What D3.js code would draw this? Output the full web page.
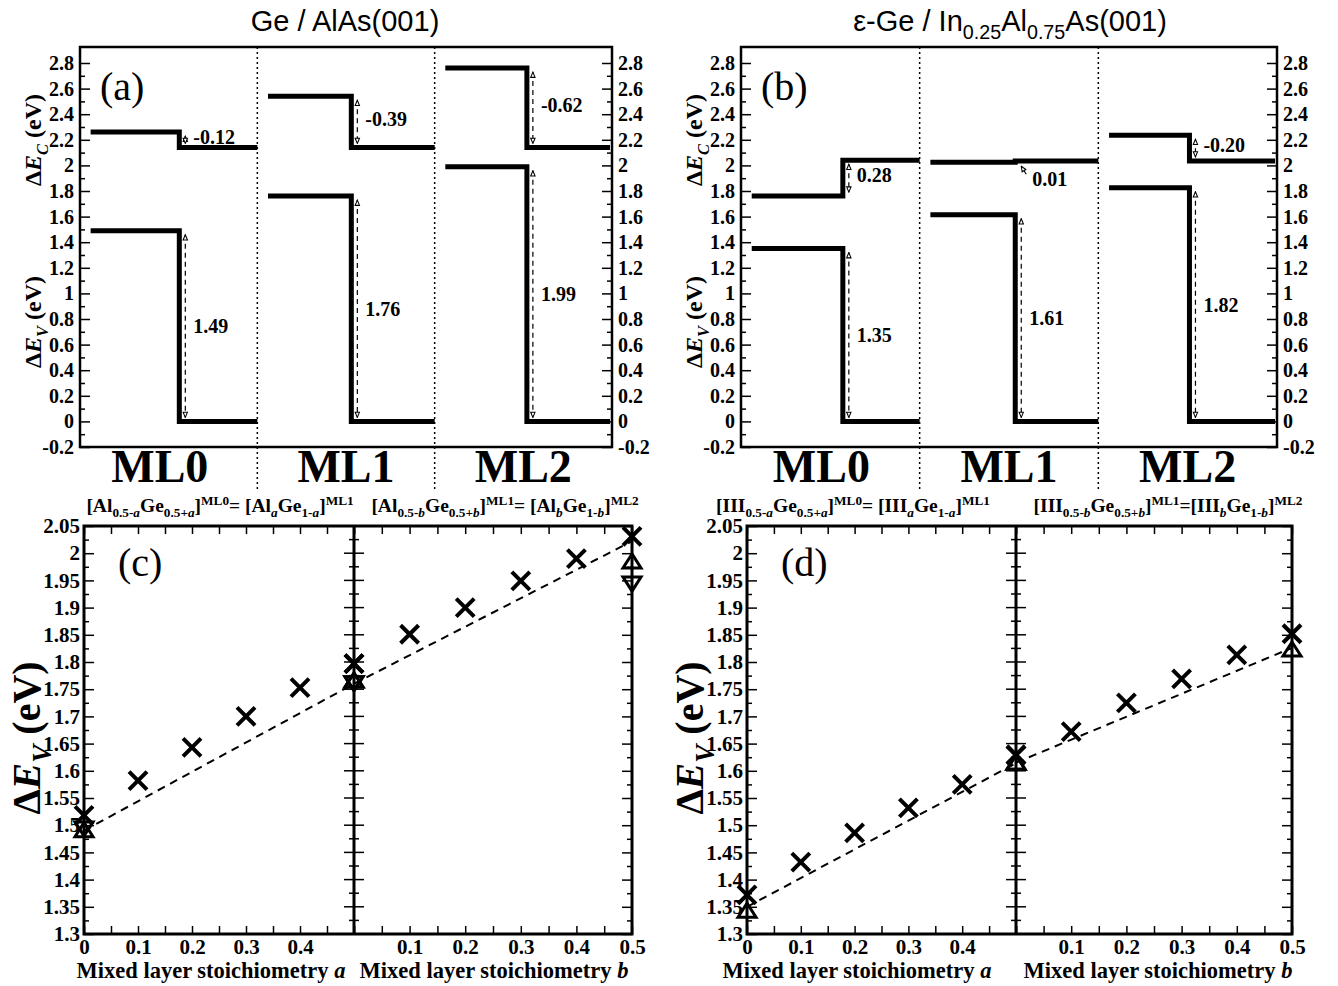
<!DOCTYPE html>
<html>
<head>
<meta charset="utf-8">
<script src="https://cdn.jsdelivr.net/npm/d3@7"></script>
<style>
  body { margin: 0; background: #fff; }
  svg text { fill: #000; }
</style>
</head>
<body>
<script>
var width = 1338, height = 986;
var serif = '"Liberation Serif","Times New Roman",serif';
var sans = '"Liberation Sans",Arial,sans-serif';

// ---- band offset panels (a), (b)
var layers = ["ML0", "ML1", "ML2"];
var aEcLeft = [2.26, 2.54, 2.76];
var aEcRight = [2.14, 2.14, 2.14];
var aEv = [1.49, 1.76, 1.99];
var aStep = [0.56, 0.53, 0.52];
var aEcText = ["-0.12", "-0.39", "-0.62"];
var aEvText = ["1.49", "1.76", "1.99"];

var bEcLeft = [1.76, 2.025, 2.235];
var bEcRight = [2.04, 2.035, 2.035];
var bEv = [1.35, 1.615, 1.825];
var bStep = [0.57, 0.535, 0.51];
var bEcText = ["0.28", "0.01", "-0.20"];
var bEvText = ["1.35", "1.61", "1.82"];

var bandTicks = [-0.2, 0, 0.2, 0.4, 0.6, 0.8, 1, 1.2, 1.4, 1.6, 1.8, 2, 2.2, 2.4, 2.6, 2.8];
var bandMinor = [-0.1, 0.1, 0.3, 0.5, 0.7, 0.9, 1.1, 1.3, 1.5, 1.7, 1.9, 2.1, 2.3, 2.5, 2.7];

// ---- mixed layer panels (c), (d)
var mixX = [0, 0.1, 0.2, 0.3, 0.4, 0.5];
var cCrossA = [1.518, 1.582, 1.643, 1.70, 1.753, 1.797];
var cCrossB = [1.797, 1.851, 1.90, 1.949, 1.99, 2.031];
var cUpX = [0, 0.5];
var cUpA = [1.49, 1.765];
var cUpB = [1.765, 1.984];
var cDownA = [1.495, 1.762];
var cDownB = [1.762, 1.945];
var cDashA = [1.49, 1.76];
var cDashB = [1.76, 2.022];

var dCrossA = [1.372, 1.432, 1.486, 1.532, 1.575, 1.629];
var dCrossB = [1.629, 1.672, 1.725, 1.769, 1.813, 1.852];
var dUpA = [1.342, 1.614];
var dUpB = [1.614, 1.822];
var dDashA = [1.35, 1.614];
var dDashB = [1.615, 1.826];

var mixYTicks = [1.3, 1.35, 1.4, 1.45, 1.5, 1.55, 1.6, 1.65, 1.7, 1.75, 1.8, 1.85, 1.9, 1.95, 2, 2.05];
var mixYMinor = [1.325, 1.375, 1.425, 1.475, 1.525, 1.575, 1.625, 1.675, 1.725, 1.775, 1.825, 1.875, 1.925, 1.975, 2.025];
var mixXTicks = [0, 0.05, 0.1, 0.15, 0.2, 0.25, 0.3, 0.35, 0.4, 0.45, 0.5];
var mixLabelsA = [0, 0.1, 0.2, 0.3, 0.4];
var mixLabelsB = [0.1, 0.2, 0.3, 0.4, 0.5];

var svg = d3.select('body').append('svg')
    .attr('width', width)
    .attr('height', height)
    .attr('font-family', serif);

var defs = svg.append('defs');
defs.append('marker')
    .attr('id', 'head')
    .attr('viewBox', '0 0 8 8')
    .attr('refX', 7).attr('refY', 4)
    .attr('markerWidth', 7).attr('markerHeight', 7)
    .attr('markerUnits', 'userSpaceOnUse')
    .attr('orient', 'auto-start-reverse')
    .append('path')
    .attr('d', 'M1,1.5 L7,4 L1,6.5 Z')
    .attr('fill', '#fff').attr('stroke', '#000').attr('stroke-width', 1.2);

var fmt = function (d) { return String(+d.toFixed(3)); };

// text with sub/superscripts: parts = [text, 'sub'|'sup'|null, italic]
function rich(text, parts, size, supShift) {
    var cur = 0;
    parts.forEach(function (p) {
        var mode = p[1];
        var off = mode == 'sub' ? size * 0.28 : mode == 'sup' ? -size * (supShift || 0.42) : 0;
        text.append('tspan')
            .attr('dy', off - cur)
            .attr('font-size', mode ? size * 0.68 : size)
            .attr('font-style', p[2] ? 'italic' : null)
            .text(p[0]);
        cur = off;
    });
    return text;
}

function styleAxis(g, size) {
    g.select('.domain').remove();
    g.selectAll('line').attr('stroke', '#000').attr('stroke-width', 1.5);
    g.attr('font-family', serif).attr('font-size', size).attr('font-weight', 'bold');
}

function yTitle(x, y, sub, size) {
    var t = svg.append('text')
        .attr('transform', 'translate(' + x + ',' + y + ') rotate(-90)')
        .attr('text-anchor', 'middle')
        .attr('font-weight', 'bold');
    rich(t, [['\u0394', null], ['E', null, true], [sub, 'sub', true], [' (eV)', null]], size);
}

function drawBands(o) {
    var g = svg.append('g');
    var x = d3.scaleLinear().domain([0, 3]).range([o.x0, o.x1]);
    var y = d3.scaleLinear().domain([-0.2, 2.925]).range([447, 47]);

    g.selectAll('.sep').data([1, 2]).enter().append('line')
        .attr('x1', x).attr('x2', x)
        .attr('y1', 47).attr('y2', 490)
        .attr('stroke', '#000').attr('stroke-width', 1.5)
        .attr('stroke-dasharray', '2,3');

    g.append('g').attr('transform', 'translate(' + o.x0 + ',0)')
        .call(d3.axisLeft(y).tickValues(bandTicks).tickSize(-10).tickPadding(6).tickFormat(fmt))
        .call(styleAxis, 20);
    g.append('g').attr('transform', 'translate(' + o.x0 + ',0)')
        .call(d3.axisLeft(y).tickValues(bandMinor).tickSize(-5).tickFormat(''))
        .call(styleAxis, 20);
    g.append('g').attr('transform', 'translate(' + o.x1 + ',0)')
        .call(d3.axisRight(y).tickValues(bandTicks).tickSize(-10).tickPadding(6).tickFormat(fmt))
        .call(styleAxis, 20);
    g.append('g').attr('transform', 'translate(' + o.x1 + ',0)')
        .call(d3.axisRight(y).tickValues(bandMinor).tickSize(-5).tickFormat(''))
        .call(styleAxis, 20);

    g.append('rect')
        .attr('x', o.x0).attr('y', 47)
        .attr('width', o.x1 - o.x0).attr('height', 400)
        .attr('fill', 'none').attr('stroke', '#000').attr('stroke-width', 2.5);

    var xs = function (i) { return x(i + 0.06); };
    var xm = function (i) { return x(i + o.step[i]); };
    var xe = function (i) { return x(i + 1) - (i == 2 ? 2 : 0); };

    g.selectAll('.ec').data(layers).enter().append('path')
        .attr('d', function (d, i) {
            return 'M' + xs(i) + ',' + y(o.ecL[i]) + 'H' + xm(i) + 'V' + y(o.ecR[i]) + 'H' + xe(i);
        })
        .attr('fill', 'none').attr('stroke', '#000').attr('stroke-width', 5);
    g.selectAll('.ev').data(layers).enter().append('path')
        .attr('d', function (d, i) {
            return 'M' + xs(i) + ',' + y(o.ev[i]) + 'H' + xm(i) + 'V' + y(0) + 'H' + xe(i);
        })
        .attr('fill', 'none').attr('stroke', '#000').attr('stroke-width', 5);

    layers.forEach(function (d, i) {
        var ax = xm(i) + 6;
        // valence offset arrow
        g.append('line')
            .attr('x1', ax).attr('x2', ax)
            .attr('y1', y(o.ev[i]) + 4).attr('y2', y(0) - 4)
            .attr('stroke', '#000').attr('stroke-width', 1.2)
            .attr('stroke-dasharray', '5,4')
            .attr('marker-start', 'url(#head)').attr('marker-end', 'url(#head)');
        g.append('text')
            .attr('x', ax + 8).attr('y', y(o.ev[i] / 2))
            .attr('dy', '0.35em')
            .attr('font-size', 20).attr('font-weight', 'bold')
            .text(o.evText[i]);

        // conduction offset arrow
        var yl = y(o.ecL[i]), yr = y(o.ecR[i]);
        if (Math.abs(o.ecL[i] - o.ecR[i]) < 0.05) {
            g.append('line')
                .attr('x1', ax + 5).attr('y1', Math.max(yl, yr) + 12)
                .attr('x2', ax).attr('y2', Math.max(yl, yr) + 4)
                .attr('stroke', '#000').attr('stroke-width', 1.2)
                .attr('marker-end', 'url(#head)');
            g.append('text')
                .attr('x', ax + 11).attr('y', Math.max(yl, yr) + 17)
                .attr('dy', '0.35em')
                .attr('font-size', 20).attr('font-weight', 'bold')
                .text(o.ecText[i]);
        } else {
            var top = Math.min(yl, yr), bot = Math.max(yl, yr);
            g.append('line')
                .attr('x1', ax).attr('x2', ax)
                .attr('y1', top + 4).attr('y2', bot - 4)
                .attr('stroke', '#000').attr('stroke-width', 1.2)
                .attr('stroke-dasharray', '5,4')
                .attr('marker-start', 'url(#head)').attr('marker-end', 'url(#head)');
            g.append('text')
                .attr('x', ax + 8).attr('y', (top + bot) / 2 - 3)
                .attr('dy', '0.35em')
                .attr('font-size', 20).attr('font-weight', 'bold')
                .text(o.ecText[i]);
        }
    });

    g.selectAll('.ml').data(layers).enter().append('text')
        .attr('x', function (d, i) { return x(i + (i == 0 ? 0.45 : 0.5)); })
        .attr('y', 482)
        .attr('text-anchor', 'middle')
        .attr('font-size', 46).attr('font-weight', 'bold')
        .text(function (d) { return d; });

    g.append('text')
        .attr('x', o.x0 + 20).attr('y', 100)
        .attr('font-size', 40)
        .text(o.tag);

    yTitle(o.x0 - 39, 140, 'C', 24);
    yTitle(o.x0 - 39, 322, 'V', 24);

    var t = svg.append('text')
        .attr('x', o.titleX).attr('y', 31)
        .attr('text-anchor', 'middle')
        .attr('font-family', sans);
    rich(t, o.title, 29);
}

function drawMixed(o) {
    var g = svg.append('g');
    var y = d3.scaleLinear().domain([1.3, 2.05]).range([934, 526]);
    var xa = d3.scaleLinear().domain([0, 0.5]).range([o.x0, o.xm]);
    var xb = d3.scaleLinear().domain([0, 0.5]).range([o.xm, o.x1]);

    g.append('g').attr('transform', 'translate(' + o.x0 + ',0)')
        .call(d3.axisLeft(y).tickValues(mixYTicks).tickSize(-10).tickPadding(4).tickFormat(fmt))
        .call(styleAxis, 21);
    g.append('g').attr('transform', 'translate(' + o.x0 + ',0)')
        .call(d3.axisLeft(y).tickValues(mixYMinor).tickSize(-5).tickFormat(''))
        .call(styleAxis, 21);
    g.append('g').attr('transform', 'translate(' + o.x1 + ',0)')
        .call(d3.axisRight(y).tickValues(mixYTicks).tickSize(-10).tickFormat(''))
        .call(styleAxis, 21);
    g.append('g').attr('transform', 'translate(' + o.x1 + ',0)')
        .call(d3.axisRight(y).tickValues(mixYMinor).tickSize(-5).tickFormat(''))
        .call(styleAxis, 21);

    // ticks crossing the middle divider
    g.selectAll('.mt').data(mixYTicks).enter().append('line')
        .attr('x1', o.xm - 10).attr('x2', o.xm + 10)
        .attr('y1', y).attr('y2', y)
        .attr('stroke', '#000').attr('stroke-width', 1.5);
    g.selectAll('.mn').data(mixYMinor).enter().append('line')
        .attr('x1', o.xm - 5).attr('x2', o.xm + 5)
        .attr('y1', y).attr('y2', y)
        .attr('stroke', '#000').attr('stroke-width', 1.5);

    [[xa, mixLabelsA], [xb, mixLabelsB]].forEach(function (p) {
        var sc = p[0], labs = p[1];
        g.append('g').attr('transform', 'translate(0,934)')
            .call(d3.axisBottom(sc).tickValues(mixXTicks).tickSize(-8).tickPadding(5)
                .tickFormat(function (d) { return labs.indexOf(d) >= 0 ? fmt(d) : ''; }))
            .call(styleAxis, 21);
        g.append('g').attr('transform', 'translate(0,526)')
            .call(d3.axisTop(sc).tickValues(mixXTicks).tickSize(-8).tickFormat(''))
            .call(styleAxis, 21);
    });

    g.append('rect')
        .attr('x', o.x0).attr('y', 526)
        .attr('width', o.x1 - o.x0).attr('height', 408)
        .attr('fill', 'none').attr('stroke', '#000').attr('stroke-width', 3);
    g.append('line')
        .attr('x1', o.xm).attr('x2', o.xm).attr('y1', 526).attr('y2', 934)
        .attr('stroke', '#000').attr('stroke-width', 3);

    var line = d3.line().x(function (d) { return d[0]; }).y(function (d) { return y(d[1]); });
    [[xa, o.dashA], [xb, o.dashB]].forEach(function (p) {
        g.append('path')
            .attr('d', line([[p[0](0), p[1][0]], [p[0](0.5), p[1][1]]]))
            .attr('fill', 'none').attr('stroke', '#000').attr('stroke-width', 2)
            .attr('stroke-dasharray', '8,6');
    });

    function marks(sc, xs, vals, shape, sw) {
        g.selectAll(null).data(vals).enter().append('path')
            .attr('transform', function (d, i) { return 'translate(' + sc(xs[i]) + ',' + y(d) + ')'; })
            .attr('d', shape)
            .attr('fill', 'none').attr('stroke', '#000').attr('stroke-width', sw)
            .attr('stroke-linejoin', 'miter');
    }
    var cross = 'M-9,-9L9,9M-9,9L9,-9';
    var up = 'M0,-8L9,6L-9,6Z';
    var down = 'M0,8L9,-6L-9,-6Z';
    if (o.upA) { marks(xa, cUpX, o.upA, up, 3); marks(xb, cUpX, o.upB, up, 3); }
    if (o.downA) { marks(xa, cUpX, o.downA, down, 3); marks(xb, cUpX, o.downB, down, 3); }
    marks(xa, mixX, o.crossA, cross, 4);
    marks(xb, mixX, o.crossB, cross, 4);

    g.append('text')
        .attr('x', o.x0 + 34).attr('y', 576)
        .attr('font-size', 40)
        .text(o.tag);

    yTitle(o.x0 - 44, 738, 'V', 40);

    var tA = g.append('text').attr('x', o.titleAX).attr('y', 512)
        .attr('text-anchor', 'middle').attr('font-weight', 'bold');
    rich(tA, o.titleA, 19.5, 0.34);
    var tB = g.append('text').attr('x', o.titleBX).attr('y', 512)
        .attr('text-anchor', 'middle').attr('font-weight', 'bold');
    rich(tB, o.titleB, 19.5, 0.34);

    [['a', o.xlabA], ['b', o.xlabB]].forEach(function (p) {
        var t = g.append('text').attr('x', p[1]).attr('y', 978)
            .attr('text-anchor', 'middle').attr('font-weight', 'bold');
        rich(t, [['Mixed layer stoichiometry ', null], [p[0], null, true]], 22.5);
    });
}

drawBands({
    x0: 80, x1: 612, tag: '(a)', titleX: 345,
    ecL: aEcLeft, ecR: aEcRight, ev: aEv, step: aStep, ecText: aEcText, evText: aEvText,
    title: [['Ge / AlAs(001)', null]]
});
drawBands({
    x0: 741, x1: 1277, tag: '(b)', titleX: 1010,
    ecL: bEcLeft, ecR: bEcRight, ev: bEv, step: bStep, ecText: bEcText, evText: bEvText,
    title: [['\u03b5-Ge / In', null], ['0.25', 'sub'], ['Al', null], ['0.75', 'sub'], ['As(001)', null]]
});

drawMixed({
    x0: 84, xm: 354, x1: 632, tag: '(c)',
    crossA: cCrossA, crossB: cCrossB, upA: cUpA, upB: cUpB, downA: cDownA, downB: cDownB,
    dashA: cDashA, dashB: cDashB,
    titleAX: 220, titleBX: 505, xlabA: 211, xlabB: 494,
    titleA: [['[Al', null], ['0.5-', 'sub'], ['a', 'sub', true], ['Ge', null], ['0.5+', 'sub'], ['a', 'sub', true],
        [']', null], ['ML0', 'sup'], ['= [Al', null], ['a', 'sub', true], ['Ge', null], ['1-', 'sub'], ['a', 'sub', true],
        [']', null], ['ML1', 'sup']],
    titleB: [['[Al', null], ['0.5-', 'sub'], ['b', 'sub', true], ['Ge', null], ['0.5+', 'sub'], ['b', 'sub', true],
        [']', null], ['ML1', 'sup'], ['= [Al', null], ['b', 'sub', true], ['Ge', null], ['1-', 'sub'], ['b', 'sub', true],
        [']', null], ['ML2', 'sup']]
});
drawMixed({
    x0: 747, xm: 1016, x1: 1292, tag: '(d)',
    crossA: dCrossA, crossB: dCrossB, upA: dUpA, upB: dUpB,
    dashA: dDashA, dashB: dDashB,
    titleAX: 853, titleBX: 1168, xlabA: 857, xlabB: 1158,
    titleA: [['[III', null], ['0.5-', 'sub'], ['a', 'sub', true], ['Ge', null], ['0.5+', 'sub'], ['a', 'sub', true],
        [']', null], ['ML0', 'sup'], ['= [III', null], ['a', 'sub', true], ['Ge', null], ['1-', 'sub'], ['a', 'sub', true],
        [']', null], ['ML1', 'sup']],
    titleB: [['[III', null], ['0.5-', 'sub'], ['b', 'sub', true], ['Ge', null], ['0.5+', 'sub'], ['b', 'sub', true],
        [']', null], ['ML1', 'sup'], ['=[III', null], ['b', 'sub', true], ['Ge', null], ['1-', 'sub'], ['b', 'sub', true],
        [']', null], ['ML2', 'sup']]
});
</script>
</body>
</html>
